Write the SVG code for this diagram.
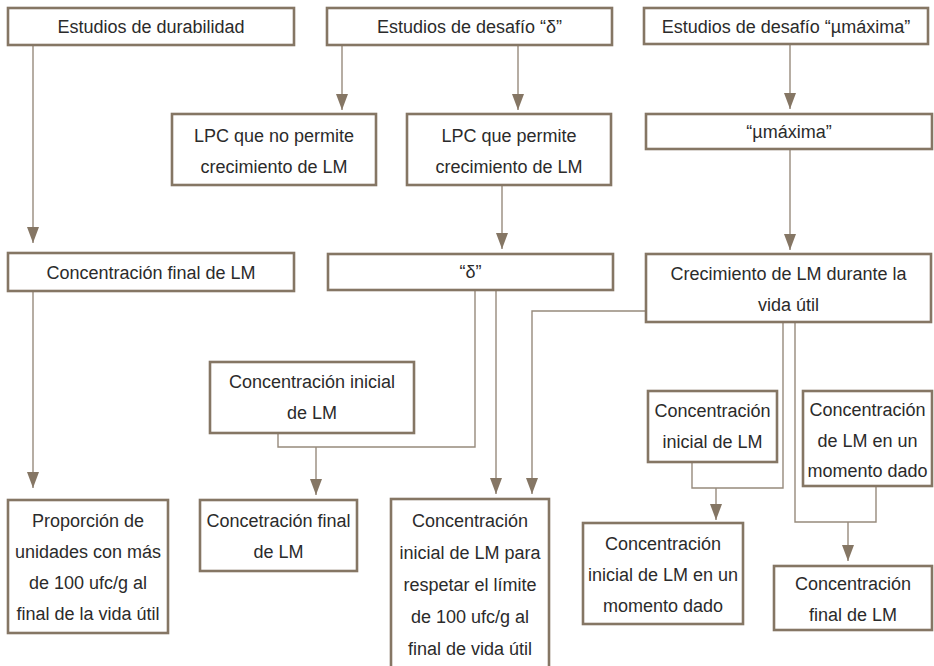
<svg xmlns="http://www.w3.org/2000/svg" width="934" height="666" viewBox="0 0 934 666">
<style>
.box{fill:#ffffff;stroke:#857664;stroke-width:2.6}
.t{font-family:"Liberation Sans",Arial,sans-serif;font-size:18px;fill:#2b2b2b;text-anchor:middle}
.c{fill:none;stroke:#978a7c;stroke-width:1.4}
</style>
<defs>
<marker id="ah" viewBox="0 0 16 12" refX="16" refY="6" markerWidth="16" markerHeight="12" markerUnits="userSpaceOnUse" orient="auto">
<path d="M0,0 L16,6 L0,12 z" fill="#857664"/>
</marker>
</defs>
<rect width="934" height="666" fill="#ffffff"/>
<g id="connectors">
<path class="c" d="M33,45 V243" marker-end="url(#ah)"/>
<path class="c" d="M33,291 V488" marker-end="url(#ah)"/>
<path class="c" d="M342,45 V110" marker-end="url(#ah)"/>
<path class="c" d="M518,45 V110" marker-end="url(#ah)"/>
<path class="c" d="M502,185 V249" marker-end="url(#ah)"/>
<path class="c" d="M790,44 V109" marker-end="url(#ah)"/>
<path class="c" d="M790,149 V250" marker-end="url(#ah)"/>
<path class="c" d="M475,290 V447 H278 V433"/>
<path class="c" d="M316,447 V495" marker-end="url(#ah)"/>
<path class="c" d="M496,290 V494" marker-end="url(#ah)"/>
<path class="c" d="M646,311 H532 V494" marker-end="url(#ah)"/>
<path class="c" d="M783,322 V488 H692 V462"/>
<path class="c" d="M716,488 V520" marker-end="url(#ah)"/>
<path class="c" d="M795,322 V522 H876 V486"/>
<path class="c" d="M848,522 V561" marker-end="url(#ah)"/>
</g>
<g id="n1"><rect class="box" x="8" y="8" width="286" height="37"/><text class="t" x="151" y="33">Estudios de durabilidad</text></g>
<g id="n2"><rect class="box" x="327" y="8" width="285" height="37"/><text class="t" x="469.5" y="33">Estudios de desafío “δ”</text></g>
<g id="n3"><rect class="box" x="644" y="8" width="284" height="36"/><text class="t" x="786" y="33">Estudios de desafío “µmáxima”</text></g>
<g id="n4"><rect class="box" x="172" y="114" width="204" height="71"/><text class="t" x="274" y="142">LPC que no permite</text><text class="t" x="274" y="173">crecimiento de LM</text></g>
<g id="n5"><rect class="box" x="407" y="114" width="204" height="71"/><text class="t" x="509" y="142">LPC que permite</text><text class="t" x="509" y="173">crecimiento de LM</text></g>
<g id="n6"><rect class="box" x="646" y="114" width="286" height="35"/><text class="t" x="789" y="138">“µmáxima”</text></g>
<g id="n7"><rect class="box" x="8" y="253" width="286" height="38"/><text class="t" x="151" y="279">Concentración final de LM</text></g>
<g id="n8"><rect class="box" x="328" y="254" width="285" height="36"/><text class="t" x="470.5" y="278">“δ”</text></g>
<g id="n9"><rect class="box" x="646" y="254" width="285" height="68"/><text class="t" x="788.5" y="280">Crecimiento de LM durante la</text><text class="t" x="788.5" y="311">vida útil</text></g>
<g id="n10"><rect class="box" x="210" y="362" width="204" height="71"/><text class="t" x="312" y="388">Concentración inicial</text><text class="t" x="312" y="419">de LM</text></g>
<g id="n11"><rect class="box" x="648" y="391" width="129" height="71"/><text class="t" x="712.5" y="417">Concentración</text><text class="t" x="712.5" y="448">inicial de LM</text></g>
<g id="n12"><rect class="box" x="803" y="391" width="129" height="95"/><text class="t" x="867.5" y="416">Concentración</text><text class="t" x="867.5" y="447">de LM en un</text><text class="t" x="867.5" y="477">momento dado</text></g>
<g id="n13"><rect class="box" x="8" y="500" width="160" height="133"/><text class="t" x="88" y="527">Proporción de</text><text class="t" x="88" y="558">unidades con más</text><text class="t" x="88" y="589">de 100 ufc/g al</text><text class="t" x="88" y="620">final de la vida útil</text></g>
<g id="n14"><rect class="box" x="200" y="500" width="157" height="71"/><text class="t" x="278.5" y="527">Concetración final</text><text class="t" x="278.5" y="558">de LM</text></g>
<g id="n15"><rect class="box" x="391" y="499" width="158" height="185"/><text class="t" x="470" y="527">Concentración</text><text class="t" x="470" y="559">inicial de LM para</text><text class="t" x="470" y="591">respetar el límite</text><text class="t" x="470" y="623">de 100 ufc/g al</text><text class="t" x="470" y="655">final de vida útil</text></g>
<g id="n16"><rect class="box" x="583" y="523" width="160" height="101"/><text class="t" x="663" y="550">Concentración</text><text class="t" x="663" y="581">inicial de LM en un</text><text class="t" x="663" y="612">momento dado</text></g>
<g id="n17"><rect class="box" x="774" y="566" width="158" height="64"/><text class="t" x="853" y="590">Concentración</text><text class="t" x="853" y="621">final de LM</text></g>
</svg>
